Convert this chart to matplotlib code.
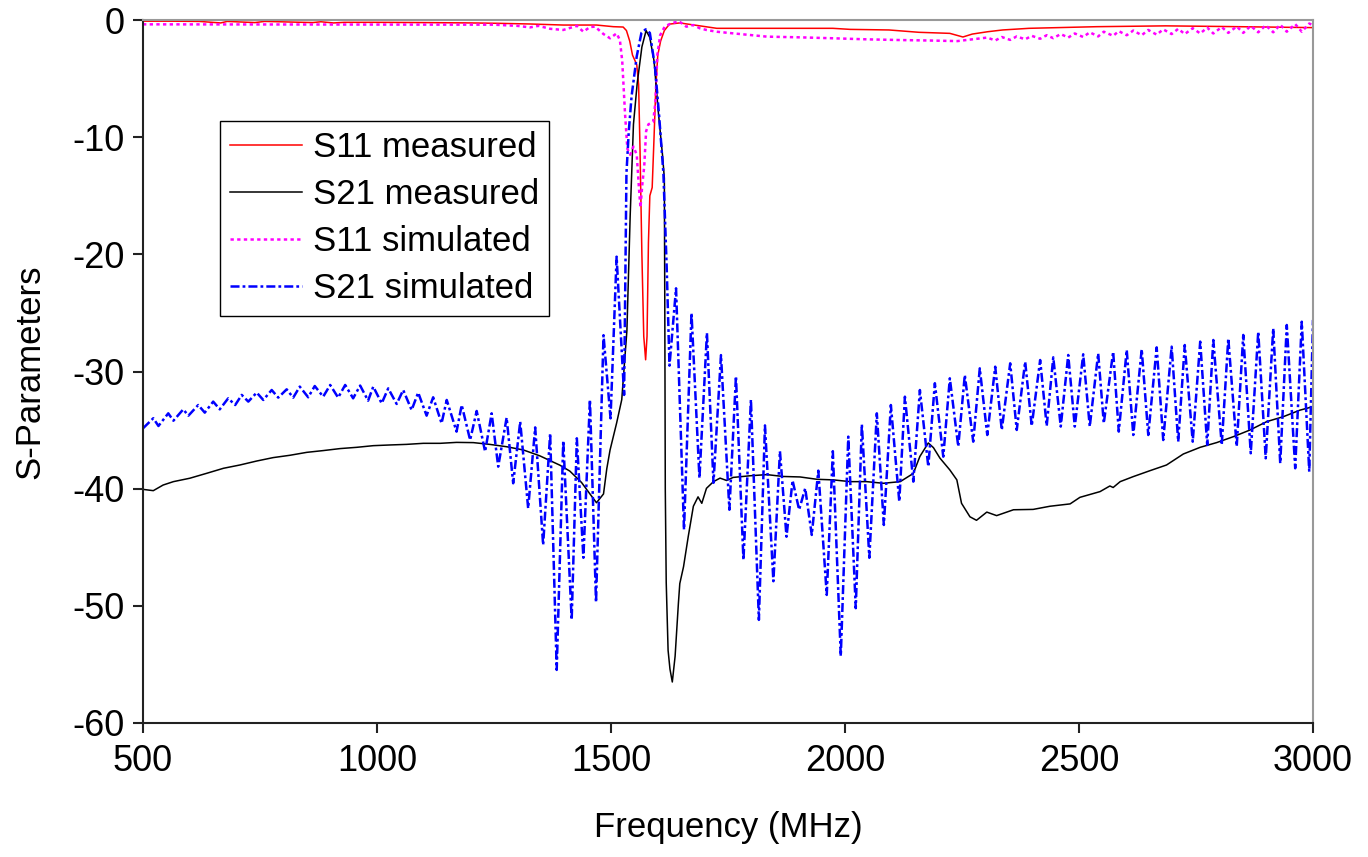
import matplotlib
matplotlib.use("Agg")
import matplotlib.pyplot as plt

plt.rcParams["font.family"] = ["Liberation Sans", "DejaVu Sans"]
plt.rcParams["lines.scale_dashes"] = False
plt.rcParams["axes.unicode_minus"] = False

# --- data (frequency in MHz, level in dB) ---
s11_meas_f = [500, 560, 620, 666, 680, 739, 760, 863, 880, 907, 930, 1000, 1100, 1200, 1256,
              1327, 1398, 1469, 1505, 1526, 1533, 1540, 1546, 1555, 1559, 1562, 1566, 1570,
              1574, 1577, 1580, 1583, 1588, 1592, 1596, 1600, 1606, 1614, 1625, 1647, 1690,
              1726, 1850, 1974, 2011, 2094, 2158, 2224, 2252, 2272, 2305, 2337, 2393, 2538,
              2685, 2800, 2900, 3000]
s11_meas_db = [-0.1, -0.1, -0.12, -0.25, -0.12, -0.22, -0.12, -0.22, -0.15, -0.25, -0.2, -0.2,
               -0.22, -0.25, -0.28, -0.34, -0.43, -0.43, -0.57, -0.6, -0.9, -1.8, -3.0, -3.8,
               -5.5, -11.0, -20.0, -27.0, -29.0, -27.0, -19.0, -15.0, -14.3, -10.0, -5.5, -3.0,
               -1.8, -0.9, -0.35, -0.25, -0.5, -0.71, -0.71, -0.71, -0.8, -0.85, -1.05, -1.14,
               -1.45, -1.2, -1.0, -0.85, -0.71, -0.57, -0.5, -0.55, -0.6, -0.65]

s21_meas_f = [500, 522, 543, 565, 600, 636, 672, 707, 743, 778, 814, 850, 885, 921, 957, 992,
              1028, 1063, 1099, 1135, 1170, 1206, 1241, 1277, 1313, 1348, 1391, 1412, 1437,
              1455, 1469, 1484, 1491, 1498, 1512, 1523, 1534, 1541, 1548, 1556, 1566, 1575,
              1583, 1592, 1601, 1610, 1614, 1615, 1616, 1618, 1622, 1626, 1631, 1637, 1644,
              1647, 1655, 1665, 1676, 1686, 1694, 1704, 1719, 1733, 1747, 1761, 1797, 1833,
              1868, 1904, 1940, 1975, 2011, 2046, 2082, 2118, 2146, 2160, 2178, 2189, 2203,
              2224, 2239, 2249, 2267, 2281, 2303, 2324, 2360, 2402, 2438, 2481, 2502, 2545,
              2566, 2573, 2588, 2616, 2652, 2687, 2723, 2759, 2794, 2830, 2865, 2901, 2937,
              2972, 3000]
s21_meas_db = [-40.06, -40.17, -39.69, -39.4, -39.11, -38.69, -38.26, -37.98, -37.64, -37.35,
               -37.15, -36.9, -36.75, -36.58, -36.47, -36.33, -36.27, -36.22, -36.13, -36.13,
               -36.05, -36.07, -36.22, -36.42, -36.7, -37.2, -38.0, -38.5, -39.47, -40.45,
               -41.2, -40.45, -38.3, -36.7, -34.4, -32.4, -26.5, -16.7, -8.9, -5.4, -2.3,
               -0.9, -1.5, -3.5, -7.8, -11.5, -13.5, -25.0, -40.0, -48.0, -53.8, -55.4, -56.5,
               -54.3, -49.8, -48.1, -46.66, -44.1, -41.5, -40.7, -41.25, -39.97, -39.4, -39.1,
               -39.3, -39.04, -38.9, -38.8, -38.96, -39.0, -39.2, -39.25, -39.4, -39.4, -39.54,
               -39.4, -38.7, -37.25, -36.1, -36.5, -37.4, -38.4, -39.25, -41.25, -42.4, -42.7,
               -42.0, -42.3, -41.8, -41.77, -41.5, -41.3, -40.74, -40.25, -39.77, -39.9, -39.4,
               -38.97, -38.46, -37.98, -37.04, -36.47, -36.07, -35.56, -35.0, -34.28, -33.85,
               -33.3, -33.0]

s11_sim_f = [500, 1250, 1300, 1327, 1345, 1370, 1398, 1427, 1441, 1455, 1466, 1484, 1498, 1512,
             1519, 1524, 1530, 1535, 1541, 1548, 1555, 1560, 1563, 1567, 1571, 1575, 1580,
             1590, 1595, 1599, 1605, 1615, 1628, 1645, 1661, 1676, 1690, 1704, 1726, 1761,
             1797, 1833, 1904, 1975, 2046, 2117, 2180, 2240, 2304, 2321, 2335, 2353, 2367,
             2385, 2399, 2417, 2431, 2445, 2461, 2477, 2491, 2509, 2523, 2541, 2553, 2573,
             2585, 2602, 2616, 2634, 2648, 2666, 2680, 2698, 2712, 2726, 2743, 2759, 2774,
             2787, 2805, 2819, 2837, 2851, 2867, 2883, 2899, 2915, 2930, 2944, 2962, 2976,
             2992, 3000]
s11_sim_db = [-0.37, -0.4, -0.5, -0.63, -0.5, -0.75, -0.85, -0.5, -1.0, -0.6, -0.57, -1.2,
              -1.56, -1.14, -1.71, -3.5, -8.0, -11.0, -11.5, -10.8, -11.5, -14.5, -16.0, -14.0,
              -12.5, -9.5, -8.9, -8.7, -7.0, -3.0, -1.3, -0.55, -0.3, -0.1, -0.57, -0.43,
              -0.71, -0.85, -1.0, -1.14, -1.28, -1.42, -1.48, -1.56, -1.65, -1.71, -1.75,
              -1.8, -1.5, -1.75, -1.45, -1.7, -1.4, -1.65, -1.35, -1.6, -1.3, -1.55, -1.2,
              -1.5, -1.15, -1.45, -1.05, -1.4, -1.0, -1.35, -0.95, -1.3, -0.9, -1.3, -0.85,
              -1.25, -0.8, -1.2, -0.75, -1.2, -0.7, -1.15, -0.65, -1.15, -0.6, -1.1, -0.55,
              -1.1, -0.5, -1.05, -0.45, -1.05, -0.4, -1.0, -0.35, -1.0, -0.3, -0.45]

s21_sim_f = [500, 522, 533, 554, 565, 586, 597, 618, 632, 650, 664, 682, 697, 711, 725, 743,
             757, 775, 789, 807, 821, 835, 853, 867, 885, 900, 917, 932, 949, 964, 981, 992,
             1010, 1024, 1042, 1056, 1074, 1088, 1106, 1120, 1138, 1149, 1170, 1181, 1199,
             1213, 1231, 1245, 1259, 1277, 1291, 1306, 1323, 1338, 1355, 1370, 1384, 1398,
             1416, 1427, 1441, 1455, 1468, 1484, 1499, 1512, 1528, 1533, 1538, 1544, 1555,
             1565, 1574, 1583, 1594, 1603, 1612, 1619, 1625, 1639, 1656, 1672, 1689, 1705,
             1719, 1735, 1753, 1767, 1783, 1799, 1816, 1829, 1847, 1861, 1875, 1888, 1902,
             1915, 1929, 1943, 1961, 1974, 1991, 2007, 2023, 2036, 2052, 2068, 2083, 2098,
             2116, 2128, 2146, 2160, 2178, 2192, 2210, 2224, 2242, 2256, 2274, 2288, 2304,
             2321, 2335, 2353, 2367, 2385, 2399, 2417, 2431, 2445, 2461, 2477, 2491, 2509,
             2523, 2541, 2553, 2573, 2585, 2602, 2616, 2634, 2648, 2666, 2680, 2698, 2712,
             2726, 2743, 2759, 2774, 2787, 2805, 2819, 2837, 2851, 2867, 2883, 2899, 2915,
             2930, 2944, 2962, 2976, 2992, 3000]
s21_sim_db = [-34.85, -33.99, -34.65, -33.57, -34.2, -33.23, -33.77, -32.86, -33.51, -32.57,
              -33.23, -32.29, -32.86, -32.0, -32.57, -31.8, -32.43, -31.58, -32.23, -31.52,
              -32.23, -31.29, -32.2, -31.24, -32.15, -31.15, -32.23, -31.15, -32.29, -31.2,
              -32.49, -31.29, -32.72, -31.44, -32.77, -31.58, -33.29, -31.8, -33.77, -32.2,
              -34.42, -32.43, -35.13, -32.86, -35.85, -33.37, -36.84, -33.57, -38.12, -33.94,
              -39.54, -34.28, -41.68, -34.77, -44.81, -35.28, -55.47, -35.9, -51.2, -35.7,
              -45.9, -32.4, -49.7, -26.9, -34.0, -20.2, -32.0, -13.1, -9.5, -6.5, -3.1, -1.1,
              -0.8, -1.1, -4.0, -8.25, -13.1, -21.1, -29.5, -22.9, -43.5, -25.0, -39.1, -26.7,
              -39.5, -28.6, -41.8, -30.4, -46.1, -32.4, -51.2, -34.6, -47.9, -36.8, -44.1,
              -39.3, -41.8, -39.97, -43.95, -38.46, -49.07, -36.8, -54.3, -35.56, -50.2, -34.5,
              -45.9, -33.57, -43.1, -32.86, -41.1, -32.15, -39.4, -31.58, -38.12, -31.0, -37.27,
              -30.58, -36.4, -30.3, -35.99, -29.73, -35.42, -29.59, -34.99, -29.3, -34.99,
              -29.16, -34.65, -29.02, -34.65, -28.79, -34.7, -28.59, -34.7, -28.53, -34.7,
              -28.45, -34.42, -28.31, -35.13, -28.16, -35.42, -28.1, -35.42, -27.94, -35.85,
              -27.88, -35.99, -27.74, -35.99, -27.45, -36.27, -27.31, -36.27, -27.17, -36.4,
              -26.88, -36.98, -26.6, -37.41, -26.31, -37.84, -26.03, -38.26, -25.75, -38.55,
              -25.6]

x_ticks = [500, 1000, 1500, 2000, 2500, 3000]
y_ticks = [-60, -50, -40, -30, -20, -10, 0]

fig = plt.figure(figsize=(13.68, 8.57), dpi=100)
ax = fig.add_axes([0.10453, 0.15636, 0.85526, 0.82030])

ax.plot(s11_meas_f, s11_meas_db, color="#FF0000", lw=1.1, label="S11 measured")
ax.plot(s21_meas_f, s21_meas_db, color="black", lw=1.1, label="S21 measured")
ax.plot(s11_sim_f, s11_sim_db, color="#FF00FF", lw=1.8, linestyle=(0, (2.4, 2.4)),
        label="S11 simulated")
ax.plot(s21_sim_f, s21_sim_db, color="#0000FF", lw=1.8, linestyle=(0, (6.5, 2.2, 2.0, 2.2)),
        label="S21 simulated")

ax.set_xlim(500, 3000)
ax.set_ylim(-60, 0)
ax.set_xticks(x_ticks)
ax.set_yticks(y_ticks)

for side in ["left", "bottom"]:
    ax.spines[side].set_color("#222222")
    ax.spines[side].set_linewidth(1.5)
for side in ["top", "right"]:
    ax.spines[side].set_color("#999999")
    ax.spines[side].set_linewidth(1.5)

ax.tick_params(direction="out", length=7, width=1.5, color="#222222", labelsize=26)
ax.tick_params(axis="y", pad=6)
ax.tick_params(axis="x", pad=8)

ax.set_xlabel("Frequency (MHz)", fontsize=25)
ax.set_ylabel("S-Parameters", fontsize=25)
ax.xaxis.set_label_coords(0.5, -0.125)
ax.yaxis.set_label_coords(-0.083, 0.5)

leg = ax.legend(loc="upper left", bbox_to_anchor=(220 / 1368, 1 - 121 / 857),
                bbox_transform=fig.transFigure, borderaxespad=0, fontsize=25,
                handlelength=2.05, handletextpad=0.32, labelspacing=0.4,
                borderpad=0.3, fancybox=False, framealpha=1)
leg.get_frame().set_edgecolor("black")
leg.get_frame().set_linewidth(1.0)

fig.savefig("out.png", dpi=100)
